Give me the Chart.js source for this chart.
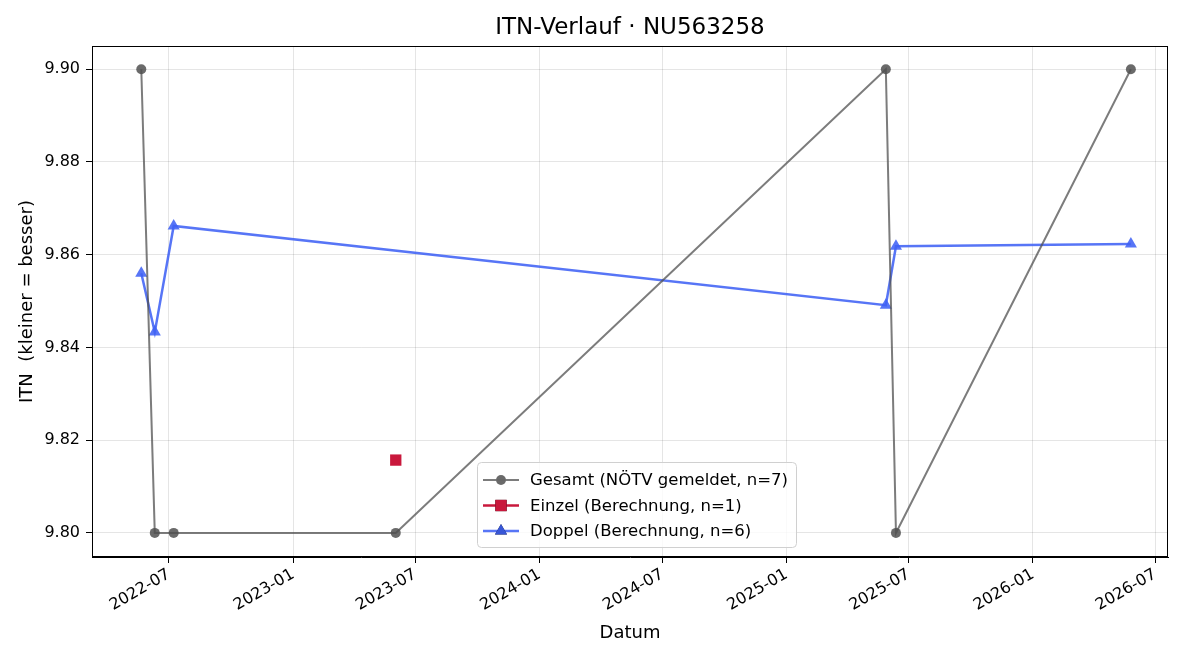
<!DOCTYPE html>
<html>
<head>
<meta charset="utf-8">
<script src="https://cdn.jsdelivr.net/npm/chart.js@4"></script>
<style>
  body { margin: 0; background: #fff; }
  #wrap { width: 1200px; height: 660px; }
</style>
</head>
<body>
<div id="wrap"><canvas id="itnChart" width="1200" height="660"></canvas></div>
<script>
// ITN-Verlauf - values

const gesamtDates = ['2022-05-21', '2022-06-10', '2022-07-08', '2023-06-02', '2025-05-28', '2025-06-12', '2026-05-26'];
const gesamtValues = [9.90, 9.80, 9.80, 9.80, 9.90, 9.80, 9.90];

const einzelDates = ['2023-06-02'];
const einzelValues = [9.8157];

const doppelDates = ['2022-05-21', '2022-06-10', '2022-07-08', '2025-05-28', '2025-06-12', '2026-05-26'];
const doppelValues = [9.856, 9.8433, 9.8662, 9.8491, 9.8618, 9.8623];

const xTickLabels = ['2022-07', '2023-01', '2023-07', '2024-01', '2024-07', '2025-01', '2025-07', '2026-01', '2026-07'];
const yTickValues = [9.80, 9.82, 9.84, 9.86, 9.88, 9.90];

const FONT = 'DejaVu Sans';

function toMs(str) {
    const p = str.split('-').map(Number);
    return Date.UTC(p[0], p[1] - 1, p[2] || 1);
}

function toPoints(dates, values) {
    return dates.map((d, i) => ({ x: toMs(d), y: values[i] }));
}

const series = [
    {
        label: 'Gesamt (NÖTV gemeldet, n=7)',
        data: toPoints(gesamtDates, gesamtValues),
        borderColor: 'rgba(80, 80, 80, 0.75)',
        backgroundColor: 'rgba(80, 80, 80, 0.85)',
        borderWidth: 2,
        pointStyle: 'circle',
        pointRadius: 5,
        pointBorderWidth: 0
    },
    {
        label: 'Einzel (Berechnung, n=1)',
        data: toPoints(einzelDates, einzelValues),
        borderColor: '#c9183c',
        backgroundColor: '#c9183c',
        borderWidth: 2.5,
        pointStyle: 'rect',
        pointRadius: 8,
        pointBorderWidth: 0
    },
    {
        label: 'Doppel (Berechnung, n=6)',
        data: toPoints(doppelDates, doppelValues),
        borderColor: 'rgba(64, 98, 245, 0.88)',
        backgroundColor: 'rgba(64, 98, 245, 0.88)',
        borderWidth: 2.5,
        pointStyle: 'triangle',
        pointRadius: 7,
        pointBorderWidth: 0
    }
];

// frame, title and in-plot legend (matplotlib look)
const decorPlugin = {
    id: 'decor',
    afterDraw(chart) {
        const { ctx, chartArea: a } = chart;
        ctx.save();
        ctx.strokeStyle = '#000';
        ctx.lineWidth = 1;
        ctx.strokeRect(a.left + 0.5, a.top + 0.5, a.right - a.left - 1, a.bottom - a.top - 1);

        ctx.fillStyle = '#000';
        ctx.font = '23px "' + FONT + '"';
        ctx.textAlign = 'center';
        ctx.textBaseline = 'middle';
        ctx.fillText('ITN-Verlauf · NU563258', (a.left + a.right) / 2, 28);

        // legend box
        const bx = 477, by = 462, bw = 319, bh = 85;
        ctx.beginPath();
        ctx.roundRect(bx + 0.5, by + 0.5, bw, bh, 4);
        ctx.fillStyle = 'rgba(255,255,255,0.8)';
        ctx.fill();
        ctx.strokeStyle = '#d0d0d0';
        ctx.lineWidth = 1;
        ctx.stroke();

        ctx.font = '16.5px "' + FONT + '"';
        ctx.textAlign = 'left';
        chart.data.datasets.forEach((ds, i) => {
            const y = by + 18 + i * 25.5;
            ctx.strokeStyle = ds.borderColor;
            ctx.lineWidth = ds.borderWidth;
            ctx.beginPath();
            ctx.moveTo(483, y);
            ctx.lineTo(519, y);
            ctx.stroke();
            Chart.helpers.drawPoint(ctx, {
                pointStyle: ds.pointStyle,
                radius: ds.pointRadius,
                borderWidth: 0,
                rotation: 0
            }, 501, y);
            ctx.fillStyle = ds.backgroundColor;
            ctx.fill();
            ctx.fillStyle = '#000';
            ctx.fillText(ds.label, 530, y + 1);
        });
        ctx.restore();
    }
};

new Chart(document.getElementById('itnChart'), {
    type: 'scatter',
    data: {
        datasets: series.map(s => Object.assign({ showLine: true, tension: 0 }, s))
    },
    options: {
        responsive: false,
        animation: false,
        layout: { padding: { left: 0, right: 32, top: 46, bottom: 0 } },
        plugins: {
            legend: { display: false },
            tooltip: { enabled: false },
            title: { display: false }
        },
        scales: {
            x: {
                type: 'linear',
                min: toMs('2022-03-09'),
                max: toMs('2026-07-20'),
                afterBuildTicks(scale) {
                    scale.ticks = xTickLabels.map(t => ({ value: toMs(t) }));
                },
                afterFit(scale) { scale.height = 103; },
                grid: { color: 'rgba(0,0,0,0.1)', tickColor: '#000', tickLength: 6 },
                border: { color: '#000' },
                ticks: {
                    color: '#000',
                    font: { family: FONT, size: 16 },
                    minRotation: 30,
                    maxRotation: 30,
                    autoSkip: false,
                    padding: 2,
                    callback(value) {
                        const d = new Date(value);
                        return d.getUTCFullYear() + '-' + String(d.getUTCMonth() + 1).padStart(2, '0');
                    }
                },
                title: {
                    display: true,
                    text: 'Datum',
                    color: '#000',
                    font: { family: FONT, size: 18 },
                    padding: { top: 0, bottom: 16 }
                }
            },
            y: {
                min: 9.7948,
                max: 9.905,
                afterBuildTicks(scale) {
                    scale.ticks = yTickValues.map(v => ({ value: v }));
                },
                afterFit(scale) { scale.width = 92; },
                grid: { color: 'rgba(0,0,0,0.1)', tickColor: '#000', tickLength: 6 },
                border: { color: '#000' },
                ticks: {
                    color: '#000',
                    font: { family: FONT, size: 16 },
                    padding: 6,
                    callback(value) { return value.toFixed(2); }
                },
                title: {
                    display: true,
                    text: 'ITN  (kleiner = besser)',
                    color: '#000',
                    font: { family: FONT, size: 18 },
                    padding: { top: 17, bottom: 0 }
                }
            }
        }
    },
    plugins: [decorPlugin]
});
</script>
</body>
</html>
